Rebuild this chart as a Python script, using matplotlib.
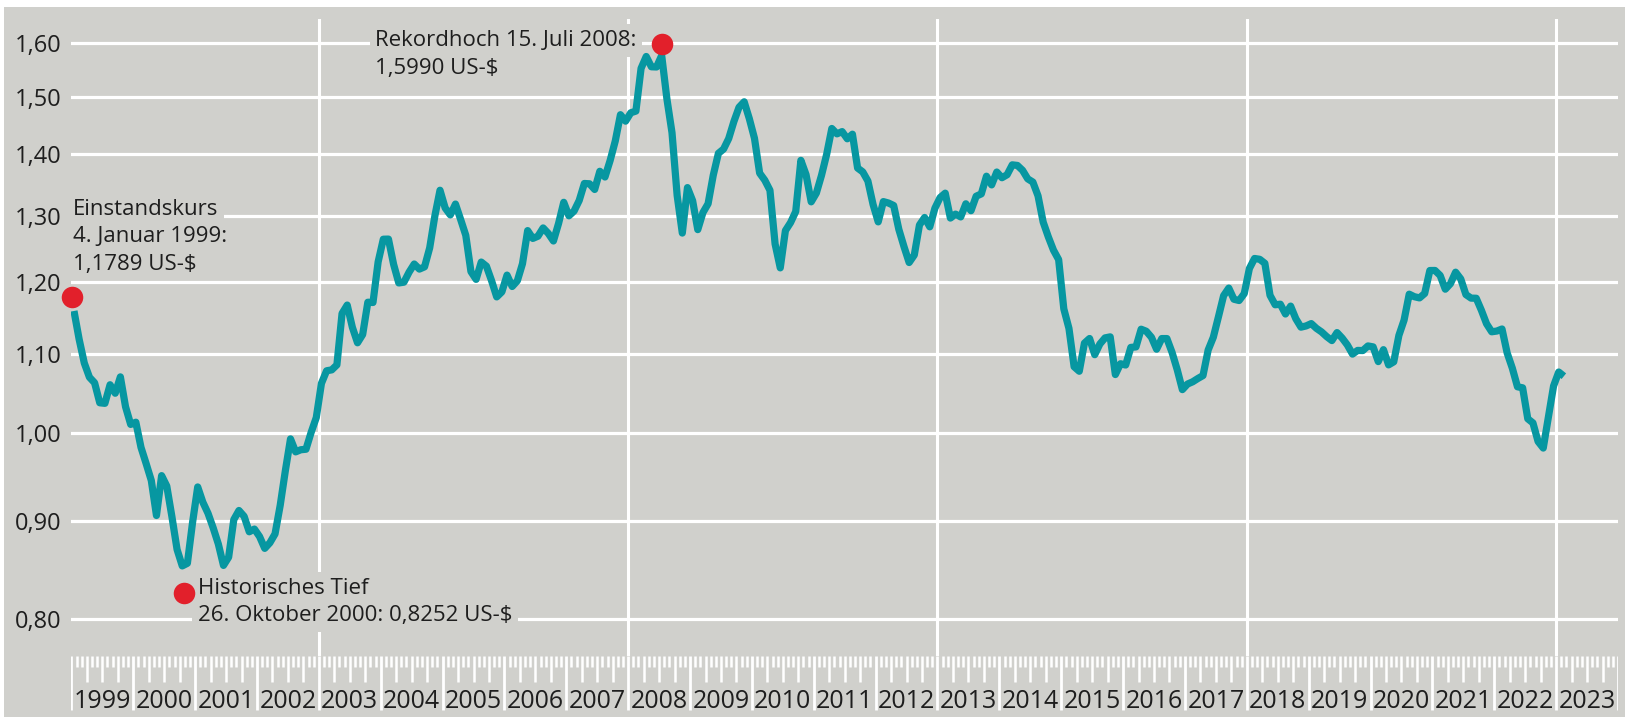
import numpy as np
import matplotlib
matplotlib.use("Agg")
import matplotlib.pyplot as plt
from matplotlib.patches import Rectangle
from matplotlib.ticker import NullLocator

plt.rcParams['font.family'] = ['Open Sans', 'DejaVu Sans']

# Euro in US-Dollar, Monatsdurchschnitte Jan 1999 - Feb 2023
rates = [
    1.1591, 1.1203, 1.0886, 1.0701, 1.0630, 1.0377, 1.0370, 1.0605, 1.0497, 1.0706, 1.0328, 1.0110,  # 1999
    1.0137, 0.9834, 0.9643, 0.9449, 0.9059, 0.9505, 0.9386, 0.9045, 0.8695, 0.8525, 0.8552, 0.8983,  # 2000
    0.9376, 0.9205, 0.9083, 0.8925, 0.8753, 0.8530, 0.8615, 0.9014, 0.9114, 0.9050, 0.8883, 0.8912,  # 2001
    0.8832, 0.8707, 0.8766, 0.8860, 0.9170, 0.9561, 0.9935, 0.9781, 0.9806, 0.9812, 1.0013, 1.0194,  # 2002
    1.0622, 1.0785, 1.0797, 1.0862, 1.1556, 1.1674, 1.1365, 1.1155, 1.1267, 1.1714, 1.1710, 1.2298,  # 2003
    1.2638, 1.2640, 1.2261, 1.1989, 1.2000, 1.2146, 1.2266, 1.2191, 1.2224, 1.2507, 1.2997, 1.3406,  # 2004
    1.3123, 1.3013, 1.3185, 1.2943, 1.2697, 1.2155, 1.2041, 1.2295, 1.2234, 1.2022, 1.1789, 1.1861,  # 2005
    1.2103, 1.1938, 1.2020, 1.2271, 1.2770, 1.2650, 1.2684, 1.2811, 1.2727, 1.2611, 1.2881, 1.3213,  # 2006
    1.2999, 1.3074, 1.3242, 1.3516, 1.3511, 1.3419, 1.3716, 1.3622, 1.3896, 1.4227, 1.4684, 1.4570,  # 2007
    1.4718, 1.4748, 1.5527, 1.5751, 1.5557, 1.5553, 1.5770, 1.4975, 1.4370, 1.3322, 1.2732, 1.3449,  # 2008
    1.3239, 1.2785, 1.3050, 1.3190, 1.3650, 1.4016, 1.4088, 1.4268, 1.4562, 1.4816, 1.4914, 1.4614,  # 2009
    1.4272, 1.3686, 1.3569, 1.3406, 1.2565, 1.2209, 1.2770, 1.2894, 1.3067, 1.3898, 1.3661, 1.3220,  # 2010
    1.3360, 1.3649, 1.3999, 1.4442, 1.4349, 1.4388, 1.4264, 1.4343, 1.3770, 1.3706, 1.3556, 1.3179,  # 2011
    1.2905, 1.3224, 1.3201, 1.3162, 1.2789, 1.2526, 1.2288, 1.2400, 1.2856, 1.2974, 1.2828, 1.3119,  # 2012
    1.3288, 1.3359, 1.2964, 1.3026, 1.2982, 1.3189, 1.3080, 1.3310, 1.3348, 1.3635, 1.3493, 1.3704,  # 2013
    1.3610, 1.3659, 1.3823, 1.3813, 1.3732, 1.3592, 1.3539, 1.3316, 1.2901, 1.2673, 1.2472, 1.2331,  # 2014
    1.1621, 1.1350, 1.0838, 1.0779, 1.1150, 1.1213, 1.0996, 1.1139, 1.1221, 1.1235, 1.0736, 1.0877,  # 2015
    1.0860, 1.1093, 1.1100, 1.1339, 1.1311, 1.1229, 1.1069, 1.1212, 1.1212, 1.1026, 1.0799, 1.0543,  # 2016
    1.0614, 1.0643, 1.0685, 1.0723, 1.1058, 1.1229, 1.1511, 1.1807, 1.1915, 1.1756, 1.1738, 1.1836,  # 2017
    1.2200, 1.2348, 1.2336, 1.2276, 1.1812, 1.1678, 1.1686, 1.1549, 1.1659, 1.1484, 1.1367, 1.1384,  # 2018
    1.1416, 1.1351, 1.1302, 1.1238, 1.1185, 1.1293, 1.1218, 1.1126, 1.1004, 1.1053, 1.1051, 1.1113,  # 2019
    1.1100, 1.0905, 1.1063, 1.0862, 1.0902, 1.1255, 1.1463, 1.1828, 1.1792, 1.1775, 1.1838, 1.2170,  # 2020
    1.2171, 1.2098, 1.1899, 1.1979, 1.2146, 1.2047, 1.1822, 1.1772, 1.1770, 1.1601, 1.1414, 1.1304,  # 2021
    1.1314, 1.1342, 1.1019, 1.0819, 1.0579, 1.0566, 1.0179, 1.0128, 0.9904, 0.9826, 1.0201, 1.0589,  # 2022
    1.0769, 1.0715,                                                                                  # 2023
]
start_year = 1999

# markierte Punkte (Datum als Dezimaljahr, Kurs)
start_pt = (1999.01, 1.1789)
low_pt = (2000.82, 0.8252)
high_pt = (2008.54, 1.5990)

yticks = [0.80, 0.90, 1.00, 1.10, 1.20, 1.30, 1.40, 1.50, 1.60]
years = list(range(1999, 2024))
big_lines = [2003, 2008, 2013, 2018, 2023]

BG = '#d0d0cc'
TEAL = '#0797a1'
RED = '#e2202b'
TXT = '#1e1e1e'

W, H = 1625, 717
fig = plt.figure(figsize=(W / 100, H / 100), dpi=100)
fig.patch.set_facecolor('white')
fig.add_artist(Rectangle((4 / W, 0), 1, (H - 7) / H, transform=fig.transFigure,
                         fc=BG, ec='none', zorder=-10))

x0, x1 = 71.4, 1618
top, bot = 19, 656
ax = fig.add_axes([x0 / W, (H - bot) / H, (x1 - x0) / W, (bot - top) / H])
ax.set_facecolor('none')
ax.set_yscale('log')
ax.set_xlim(1999, 2024)
ax.set_ylim(0.7648, 1.6479)
for s in ax.spines.values():
    s.set_visible(False)
ax.set_xticks([])
ax.yaxis.set_minor_locator(NullLocator())
ax.set_yticks(yticks)
ax.set_yticklabels([f"{v:.2f}".replace('.', ',') for v in yticks])
ax.tick_params(axis='y', length=0, pad=7, labelsize=17, labelcolor=TXT)

for v in yticks:
    ax.axhline(v, color='white', lw=2.3, zorder=1)
for y in big_lines:
    ax.axvline(y, color='white', lw=2.2, zorder=1)

months = start_year + (np.arange(len(rates)) + 0.5) / 12
ax.plot(months, rates, color=TEAL, lw=5.2, zorder=3, solid_capstyle='butt')

for pt in (start_pt, low_pt, high_pt):
    ax.plot(*pt, 'o', color=RED, ms=15.5, mec='none', zorder=4, clip_on=False)

FS = 16
box = dict(boxstyle='square,pad=0.25', fc=BG, ec='none')
kw = dict(textcoords='offset pixels', fontsize=FS, color=TXT, bbox=box, zorder=2)


def label(xy, lines, dx, dy):
    for i, s in enumerate(lines):
        ax.annotate(s, xy, xytext=(dx, dy - i * 27.5), ha='left', va='baseline', **kw)


label(start_pt, ["Einstandskurs", "4. Januar 1999:", "1,1789 US-$"], 1, 82)
label(low_pt, ["Historisches Tief", "26. Oktober 2000: 0,8252 US-$"], 14, -1)

t1 = ax.annotate("Rekordhoch 15. Juli 2008:", high_pt, xytext=(-25, -2),
                 ha='right', va='baseline', **kw)
ax.annotate("1,5990 US-$", (0, 0), xycoords=t1, xytext=(0, -28),
            textcoords='offset pixels', ha='left', va='bottom',
            fontsize=FS, color=TXT, bbox=box, zorder=2)

# Zeitleiste unten
rax = fig.add_axes([x0 / W, 0, (x1 - x0) / W, (H - bot) / H])
rax.set_facecolor('none')
rax.set_xlim(1999, 2024)
rax.set_ylim(H - bot, 0)
rax.axis('off')
ticks = np.arange(1999 * 12, 2024 * 12 + 1)
for k in ticks:
    if k % 12 == 0:
        rax.vlines(k / 12, 0, 54, color='white', lw=2.0)
    elif k % 3 == 0:
        rax.vlines(k / 12, 0, 26, color='white', lw=1.8)
    else:
        rax.vlines(k / 12, 0, 11, color='white', lw=1.8)
for y in years:
    rax.text(y + 0.5, 52, str(y), ha='center', va='baseline', fontsize=18, color=TXT)

fig.savefig('out.png', dpi=100)
